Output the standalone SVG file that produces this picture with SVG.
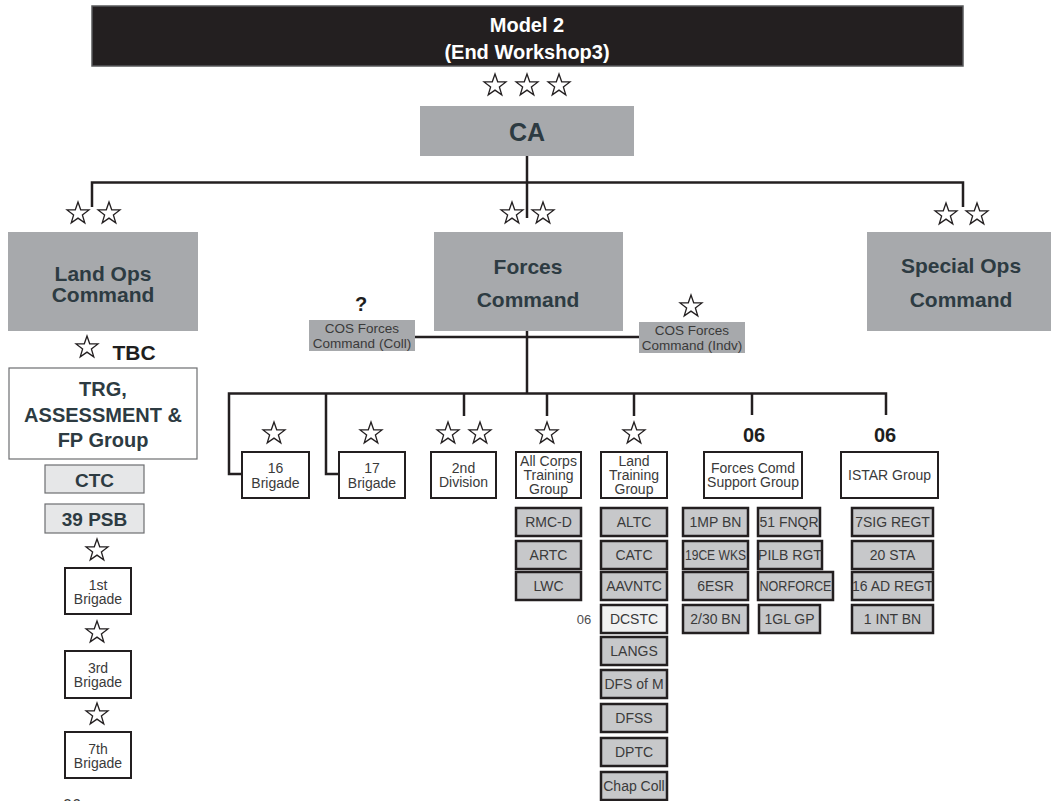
<svg xmlns="http://www.w3.org/2000/svg" width="1051" height="801" viewBox="0 0 1051 801">
<style>
text{font-family:"Liberation Sans",Arial,Helvetica,sans-serif;text-anchor:middle}
.big{font-weight:bold;font-size:21px;fill:#2d3b42}
.title{font-weight:bold;font-size:20px;fill:#ffffff}
.lbl{font-weight:bold;font-size:20px;fill:#1e1e1e}
.sm{font-size:14px;fill:#3a3a3a}
.cos{font-size:13.5px;fill:#3a3a3a}
.grey{fill:#a7a9ac}
.wbox{fill:#ffffff;stroke:#231f20;stroke-width:2}
.sub{fill:#c7c8ca;stroke:#231f20;stroke-width:2.5}
.subl{fill:#f1f2f2;stroke:#231f20;stroke-width:2.5}
.lt{fill:#e6e7e8;stroke:#6d6e71;stroke-width:1.2}
.conn{fill:none;stroke:#231f20;stroke-width:2.5}
.star{fill:#ffffff;stroke:#231f20;stroke-width:1.3;stroke-linejoin:miter}
</style>
<defs>
<polygon id="star" class="star" points="0,-11.5 2.7,-3.72 10.94,-3.55 4.38,1.42 6.76,9.3 0,4.6 -6.76,9.3 -4.38,1.42 -10.94,-3.55 -2.7,-3.72"/>
</defs>

<g id="connectors">
<path class="conn" d="M527 156 V183"/>
<path class="conn" d="M92 207 V182.5 H963 V207"/>
<path class="conn" d="M527 182 V218"/>
<path class="conn" d="M527 331 V393"/>
<path class="conn" d="M415 337 H639"/>
<path class="conn" d="M242 474 H229 V393.5 H886 V415"/>
<path class="conn" d="M339 474 H326 V393"/>
<path class="conn" d="M464 393 V416"/>
<path class="conn" d="M547 393 V416"/>
<path class="conn" d="M634 393 V416"/>
<path class="conn" d="M752 393 V415"/>
</g>

<g id="title">
<rect x="92" y="6" width="871" height="60" fill="#231f20" stroke="#58595b" stroke-width="1.5"/>
<text class="title" x="527" y="32">Model 2</text>
<text class="title" x="527" y="59">(End Workshop3)</text>
</g>

<g id="stars">
<use href="#star" x="495" y="85.5"/>
<use href="#star" x="527" y="85.5"/>
<use href="#star" x="559" y="85.5"/>
<use href="#star" x="78" y="213.5"/>
<use href="#star" x="109" y="213.5"/>
<use href="#star" x="512" y="213.5"/>
<use href="#star" x="543" y="213.5"/>
<use href="#star" x="946" y="214.5"/>
<use href="#star" x="977" y="214.5"/>
<use href="#star" x="691" y="306.5"/>
<use href="#star" x="87" y="347.5"/>
<use href="#star" x="274" y="433.5"/>
<use href="#star" x="371" y="433.5"/>
<use href="#star" x="448" y="433.5"/>
<use href="#star" x="480" y="433.5"/>
<use href="#star" x="547" y="433.5"/>
<use href="#star" x="634" y="433.5"/>
<use href="#star" x="97" y="550.5"/>
<use href="#star" x="97" y="632.5"/>
<use href="#star" x="97" y="714.5"/>
</g>

<g id="ca">
<rect class="grey" x="420" y="106" width="214" height="50"/>
<text class="big" x="527" y="141" style="font-size:25px">CA</text>
</g>

<g id="land-ops">
<rect class="grey" x="8" y="232" width="190" height="99"/>
<text class="big" x="103" y="281">Land Ops</text>
<text class="big" x="103" y="302">Command</text>
</g>

<g id="forces-command">
<rect class="grey" x="434" y="232" width="189" height="99"/>
<text class="big" x="528" y="274">Forces</text>
<text class="big" x="528" y="307">Command</text>
</g>

<g id="special-ops">
<rect class="grey" x="867" y="232" width="190" height="99"/>
<text class="big" x="961" y="273">Special Ops</text>
<text class="big" x="961" y="307">Command</text>
</g>

<g id="cos-coll">
<text class="lbl" x="361" y="311">?</text>
<rect class="grey" x="309" y="320" width="106" height="31"/>
<text class="cos" x="362" y="333">COS Forces</text>
<text class="cos" x="362" y="348">Command (Coll)</text>
</g>

<g id="cos-indv">
<rect class="grey" x="639" y="322" width="106" height="31"/>
<text class="cos" x="692" y="335">COS Forces</text>
<text class="cos" x="692" y="350">Command (Indv)</text>
</g>

<g id="tbc">
<text class="lbl" x="134" y="360" style="font-size:21px">TBC</text>
</g>

<g id="trg">
<rect x="9" y="368" width="188" height="91" fill="#ffffff" stroke="#6d6e71" stroke-width="1.2"/>
<text class="big" x="103" y="396" style="font-size:20px">TRG,</text>
<text class="big" x="103" y="422" style="font-size:20px">ASSESSMENT &amp;</text>
<text class="big" x="103" y="447" style="font-size:20px">FP Group</text>
</g>

<g id="ctc">
<rect class="lt" x="45" y="465" width="99" height="28"/>
<text class="big" x="94.5" y="486.5" style="font-size:19px">CTC</text>
</g>

<g id="psb39">
<rect class="lt" x="45" y="504" width="99" height="29"/>
<text class="big" x="94.5" y="525.5" style="font-size:19px">39 PSB</text>
</g>

<g id="brig1">
<rect class="wbox" x="65" y="568" width="66" height="46"/>
<text class="sm" x="98" y="590">1st</text>
<text class="sm" x="98" y="604">Brigade</text>
</g>
<g id="brig3">
<rect class="wbox" x="65" y="651" width="66" height="47"/>
<text class="sm" x="98" y="673">3rd</text>
<text class="sm" x="98" y="687">Brigade</text>
</g>
<g id="brig7">
<rect class="wbox" x="65" y="732" width="66" height="46"/>
<text class="sm" x="98" y="754">7th</text>
<text class="sm" x="98" y="768">Brigade</text>
</g>
<text class="sm" x="72" y="811" style="font-size:16px">06</text>

<g id="brig16">
<rect class="wbox" x="242" y="452" width="67" height="46"/>
<text class="sm" x="275.5" y="473">16</text>
<text class="sm" x="275.5" y="488">Brigade</text>
</g>
<g id="brig17">
<rect class="wbox" x="339" y="452" width="66" height="46"/>
<text class="sm" x="372" y="473">17</text>
<text class="sm" x="372" y="488">Brigade</text>
</g>
<g id="div2">
<rect class="wbox" x="431" y="452" width="65" height="46"/>
<text class="sm" x="463.5" y="473">2nd</text>
<text class="sm" x="463.5" y="487">Division</text>
</g>
<g id="actg">
<rect class="wbox" x="516" y="452" width="65" height="46"/>
<text class="sm" x="548.5" y="466">All Corps</text>
<text class="sm" x="548.5" y="480">Training</text>
<text class="sm" x="548.5" y="494">Group</text>
</g>
<g id="ltg">
<rect class="wbox" x="601" y="452" width="66" height="46"/>
<text class="sm" x="634" y="466">Land</text>
<text class="sm" x="634" y="480">Training</text>
<text class="sm" x="634" y="494">Group</text>
</g>
<g id="fcsg">
<text class="lbl" x="754" y="442">06</text>
<rect class="wbox" x="704" y="452" width="98" height="46"/>
<text class="sm" x="753" y="473">Forces Comd</text>
<text class="sm" x="753" y="487">Support Group</text>
</g>
<g id="istar">
<text class="lbl" x="885" y="442">06</text>
<rect class="wbox" x="841" y="452" width="97" height="46"/>
<text class="sm" x="889.5" y="480">ISTAR Group</text>
</g>

<g id="actg-units">
<rect class="sub" x="516" y="508" width="65" height="28"/><text class="sm" x="548.5" y="527">RMC-D</text>
<rect class="sub" x="516" y="541" width="65" height="28"/><text class="sm" x="548.5" y="560">ARTC</text>
<rect class="sub" x="516" y="572" width="65" height="28"/><text class="sm" x="548.5" y="591">LWC</text>
</g>

<g id="ltg-units">
<rect class="sub" x="601" y="508" width="66" height="28"/><text class="sm" x="634" y="527">ALTC</text>
<rect class="sub" x="601" y="541" width="66" height="28"/><text class="sm" x="634" y="560">CATC</text>
<rect class="sub" x="601" y="572" width="66" height="28"/><text class="sm" x="634" y="591">AAVNTC</text>
<text class="sm" x="584" y="624" style="font-size:13px;fill:#4d4d4f">06</text>
<rect class="subl" x="601" y="605" width="66" height="28"/><text class="sm" x="634" y="624">DCSTC</text>
<rect class="sub" x="601" y="637" width="66" height="28"/><text class="sm" x="634" y="656">LANGS</text>
<rect class="sub" x="601" y="670" width="66" height="28"/><text class="sm" x="634" y="689">DFS of M</text>
<rect class="sub" x="601" y="704" width="66" height="28"/><text class="sm" x="634" y="723">DFSS</text>
<rect class="sub" x="601" y="738" width="66" height="28"/><text class="sm" x="634" y="757">DPTC</text>
<rect class="sub" x="601" y="772" width="66" height="28"/><text class="sm" x="634" y="791">Chap Coll</text>
</g>

<g id="fcsg-units">
<rect class="sub" x="683" y="508" width="65" height="28"/><text class="sm" x="715.5" y="527">1MP BN</text>
<rect class="sub" x="683" y="541" width="65" height="28"/><text class="sm" x="715.5" y="560" textLength="61" lengthAdjust="spacingAndGlyphs">19CE WKS</text>
<rect class="sub" x="683" y="572" width="65" height="28"/><text class="sm" x="715.5" y="591">6ESR</text>
<rect class="sub" x="683" y="605" width="65" height="28"/><text class="sm" x="715.5" y="624">2/30 BN</text>
<rect class="sub" x="758" y="508" width="62" height="28"/><text class="sm" x="789" y="527">51 FNQR</text>
<rect class="sub" x="758" y="541" width="64" height="28"/><text class="sm" x="790" y="560">PILB RGT</text>
<rect class="sub" x="758" y="572" width="75" height="28"/><text class="sm" x="795.5" y="591" textLength="72" lengthAdjust="spacingAndGlyphs">NORFORCE</text>
<rect class="sub" x="759" y="605" width="61" height="28"/><text class="sm" x="789.5" y="624">1GL GP</text>
</g>

<g id="istar-units">
<rect class="sub" x="852" y="508" width="81" height="28"/><text class="sm" x="892.5" y="527">7SIG REGT</text>
<rect class="sub" x="852" y="541" width="81" height="28"/><text class="sm" x="892.5" y="560">20 STA</text>
<rect class="sub" x="852" y="572" width="81" height="28"/><text class="sm" x="892.5" y="591">16 AD REGT</text>
<rect class="sub" x="852" y="605" width="81" height="28"/><text class="sm" x="892.5" y="624">1 INT BN</text>
</g>
</svg>
